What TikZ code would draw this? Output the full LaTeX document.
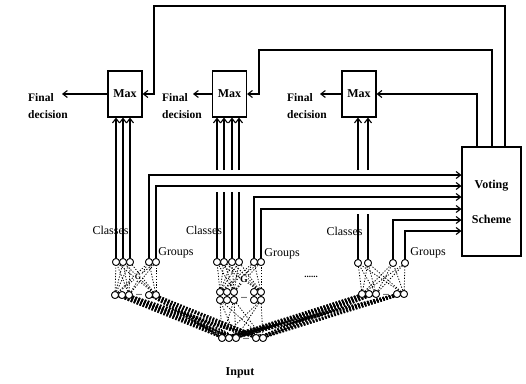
\documentclass[tikz,border=0pt]{standalone}
\usepackage{fontspec}
\setmainfont{Liberation Serif}
\usetikzlibrary{arrows.meta,calc}
\begin{document}
\begin{tikzpicture}[x=1pt,y=-1pt,
  box/.style={draw,line width=1.1pt,minimum width=34pt,minimum height=46pt,inner sep=0pt,
    font=\fontsize{12}{14}\selectfont\bfseries},
  fd/.style={align=left,anchor=west,inner sep=0pt,font=\fontsize{11.5}{17}\selectfont\bfseries},
  lbr/.style={inner sep=0pt,font=\fontsize{12}{14}\selectfont},
  wire/.style={line width=1.1pt},
  arr/.style={wire,-{Straight Barb[length=4.5pt,width=7pt,line width=1.1pt]}},
  neu/.style={circle,draw,line width=0.8pt,minimum size=7pt,inner sep=0pt,fill=white},
  syn/.style={line width=0.8pt,dash pattern=on 1.2pt off 1.6pt},
  band/.style={line width=1.4pt,dash pattern=on 1.6pt off 1.6pt},
  dotsn/.style={inner sep=0pt,font=\fontsize{8}{8}\selectfont\bfseries},
]
\useasboundingbox (0,0) rectangle (526,383);

% Max boxes and voting scheme
\node[box] (max1) at (125,94) {Max};
\node[box] (max2) at (229.5,94) {Max};
\node[box] (max3) at (359,94) {Max};
\node[draw,line width=1.1pt,minimum width=59pt,minimum height=109pt,inner sep=0pt,align=center,
  font=\fontsize{12}{35}\selectfont\bfseries] (vote) at (491.5,201.5) {Voting\\Scheme};

% final decisions
\node[fd] (fdt1) at (28,106) {Final\\decision};
\node[fd] (fdt2) at (162,106) {Final\\decision};
\node[fd] (fdt3) at (287,106) {Final\\decision};
\coordinate (fe1) at (62,94);
\coordinate (fe2) at (193,94);
\coordinate (fe3) at (320,94);
\draw[arr] (max1.west) -- (fe1);
\draw[arr] (max2.west) -- (fe2);
\draw[arr] (max3.west) -- (fe3);

% feedback from voting scheme
\coordinate (k1) at (505,6);
\coordinate (k2) at (492,50);
\coordinate (k3) at (477,94);
\draw[arr] (vote.north -| k1) |- (154,6) |- (max1.east);
\draw[arr] (vote.north -| k2) |- (259,50) |- (max2.east);
\draw[arr] (vote.north -| k3) |- (max3.east);

% module 1 neurons
\foreach \x [count=\i] in {116,123,130,149,156} \node[neu] (t1\i) at (\x,262) {};
\foreach \x [count=\i] in {115,122,129,149,156} \node[neu] (u1\i) at (\x,295) {};
% module 2 neurons
\foreach \x [count=\i] in {217,224,232,239,254,261} \node[neu] (t2\i) at (\x,262) {};
\foreach \x [count=\i] in {220,227,234,254,261} \node[neu] (m2\i) at (\x,292) {};
\foreach \x [count=\i] in {220,227,234,254,261} \node[neu] (n2\i) at (\x,300) {};
% module 3 neurons
\foreach \x [count=\i] in {358,368,393,405} \node[neu] (t3\i) at (\x,263) {};
\foreach \x [count=\i] in {362,369,376,397,404} \node[neu] (u3\i) at (\x,294) {};
% input layer
\foreach \x [count=\i] in {222,229,236,256,263} \node[neu] (in\i) at (\x,338) {};

% internal synapses
\foreach \a in {1,3,5} \foreach \b in {1,...,5} \draw[syn] (u1\a) -- (t1\b);
\foreach \a in {1,3,5} \foreach \b in {1,...,6} \draw[syn] (m2\a) -- (t2\b);
\foreach \a in {1,3,5} \foreach \b in {1,...,4} \draw[syn] (u3\a) -- (t3\b);
\foreach \a in {1,3,5} \foreach \b in {1,3,5} \draw[syn] (n2\a) -- (in\b);
% bands to the input layer
\foreach \a in {1,...,5} \foreach \b in {1,...,5} \draw[band] (u1\a) -- (in\b);
\foreach \a in {1,...,5} \foreach \b in {1,...,5} \draw[band] (u3\a) -- (in\b);
% redraw neurons on top
\foreach \n in {t11,t12,t13,t14,t15,u11,u12,u13,u14,u15,t21,t22,t23,t24,t25,t26,
  m21,m22,m23,m24,m25,n21,n22,n23,n24,n25,t31,t32,t33,t34,u31,u32,u33,u34,u35,
  in1,in2,in3,in4,in5}
  \draw[line width=0.8pt,fill=white] (\n) circle (3.5pt);
\node[dotsn] (d1) at (139,295) {...};
\node[dotsn] (d2) at (244,298) {...};
\node[dotsn] (d3) at (386,295) {...};
\node[dotsn] (d4) at (246,339) {...};
\node[inner sep=0.5pt,fill=white,font=\fontsize{8}{8}\selectfont\bfseries] (G1) at (138,277) {G};
\node[inner sep=0.5pt,fill=white,font=\fontsize{10}{10}\selectfont\bfseries] (G2) at (244,279) {G};

% class outputs to Max
\foreach \i in {1,2,3} \draw[arr] (t1\i) -- (t1\i |- max1.south);
\foreach \i in {1,2,3,4} {
  \coordinate (ga2\i) at (t2\i |- 0,192);
  \coordinate (gb2\i) at (t2\i |- 0,170);
  \draw[wire] (t2\i) -- (ga2\i);
  \draw[arr] (gb2\i) -- (t2\i |- max2.south);
}
\foreach \i in {1,2} {
  \coordinate (ga3\i) at (t3\i |- 0,214);
  \coordinate (gb3\i) at (t3\i |- 0,170);
  \draw[wire] (t3\i) -- (ga3\i);
  \draw[arr] (gb3\i) -- (t3\i |- max3.south);
}

% group outputs to voting scheme
\draw[arr] (t14) |- (vote.west |- 0,175);
\draw[arr] (t15) |- (vote.west |- 0,186);
\draw[arr] (t25) |- (vote.west |- 0,197);
\draw[arr] (t26) |- (vote.west |- 0,209);
\draw[arr] (t33) |- (vote.west |- 0,220);
\draw[arr] (t34) |- (vote.west |- 0,231);

% labels
\node[lbr] (cl1) at (110.5,230) {Classes};
\node[lbr] (cl2) at (204,230) {Classes};
\node[lbr] (cl3) at (344.5,231) {Classes};
\node[lbr] (gr1) at (176,253) {Groups};
\node[lbr] (gr2) at (282,254) {Groups};
\node[lbr] (gr3) at (428,253) {Groups};
\node[inner sep=0pt,font=\fontsize{9}{9}\selectfont\bfseries] (mid) at (311,277) {......};
\node[inner sep=0pt,font=\fontsize{12}{14}\selectfont\bfseries] (inp) at (240,373) {Input};
\end{tikzpicture}
\end{document}
